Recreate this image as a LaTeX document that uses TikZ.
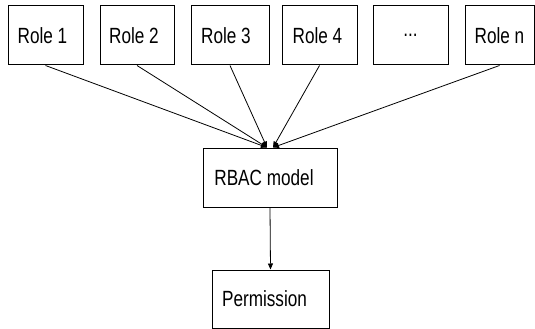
\documentclass[tikz,border=0pt]{standalone}
\usepackage{fontspec}
\setmainfont{Liberation Sans}[FakeStretch=0.78]
\usetikzlibrary{arrows.meta}
\newcommand{\shifted}[2]{\kern-#1pt #2\kern#1pt}
\begin{document}
\begin{tikzpicture}[x=1pt,y=-1pt,
  box/.style={draw, line width=1pt, inner sep=0pt, minimum height=59pt,
    font=\fontsize{22}{24}\selectfont},
  conn/.style={line width=0.8pt, -{Triangle[length=6pt,width=5pt]}}]
\useasboundingbox (0,0) rectangle (535,329);
\fill[white] (0,0) rectangle (535,329);
\node[box, minimum width=75pt] (r1) at (45.5,35.5) {\shifted{3}{Role 1}};
\node[box, minimum width=74pt] (r2) at (137,35.5) {\shifted{3}{Role 2}};
\node[box, minimum width=78pt] (r3) at (230,35.5) {\shifted{4}{Role 3}};
\node[box, minimum width=75pt] (r4) at (319.5,35.5) {\shifted{2}{Role 4}};
\node[box, minimum width=75pt] (r5) at (410.5,35.5) {...};
\node[box, minimum width=69pt] (rn) at (499.5,35.5) {Role n};
\node[box, minimum width=134pt] (rbac) at (270,177.5) {\shifted{6}{RBAC model}};
\node[box, minimum width=117pt, minimum height=58pt] (perm) at (270.5,299) {\shifted{6}{Permission}};
\coordinate (inL) at ([xshift=-3pt]rbac.north);
\coordinate (inR) at ([xshift=3pt]rbac.north);
\draw[conn] (r1.south) -- (inL);
\draw[conn] (r2.south) -- (inL);
\draw[conn] (r3.south) -- (inL);
\draw[conn] (r4.south) -- (inR);
\draw[conn] (rn.south) -- (inR);
\draw[conn] (rbac.south) -- (perm.north);
\end{tikzpicture}
\end{document}
